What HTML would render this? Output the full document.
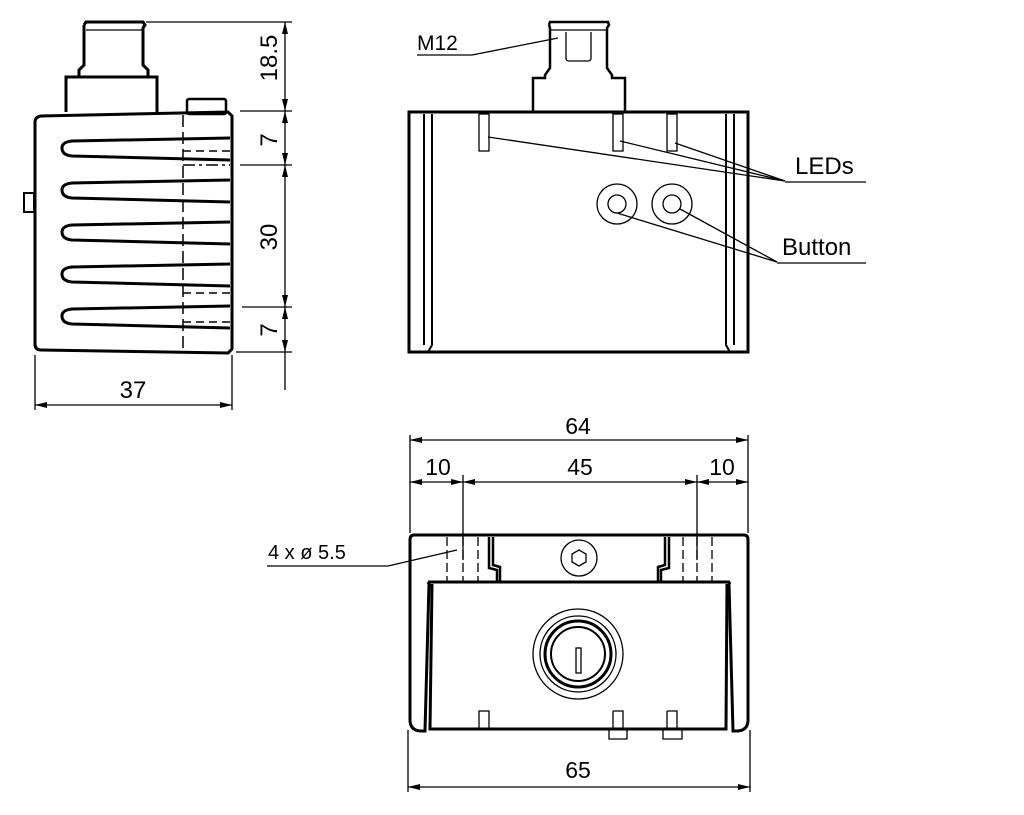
<!DOCTYPE html>
<html><head><meta charset="utf-8"><style>
html,body{margin:0;padding:0;background:#fff;}
svg{display:block;}
text{font-family:"Liberation Sans",sans-serif;fill:#000;}
</style></head><body>
<svg width="1024" height="815" viewBox="0 0 1024 815" xmlns="http://www.w3.org/2000/svg">
<defs>
<marker id="a" viewBox="0 0 12 6" refX="12" refY="3" markerWidth="12" markerHeight="6" orient="auto-start-reverse" markerUnits="userSpaceOnUse"><path d="M0,0 L12,3 L0,6 z" fill="#000"/></marker>
</defs>
<g fill="none" stroke="#000" stroke-width="1.3">
<!-- LEFT VIEW -->
<path d="M84,25 L86,22 L143,22 L145,25 L143,28 L143,65 L148,70 L148,77 L66,77 L66,112 M148,77 L157,77 L157,112 M84,25 L84,65 L79,70 L79,77" stroke-width="3"/>
<line x1="86" y1="30" x2="143" y2="30"/>
<rect x="187" y="99" width="39" height="15" rx="2" stroke-width="2.5"/>
<rect x="24" y="193" width="10" height="19" stroke-width="2"/>
<path d="M41,116 L228,112 L232,116 L232,349 L228,353 L41,350 Q35,350 35,344 L35,122 Q35,117 41,116 Z" stroke-width="3"/>
<g stroke-width="3">
<path d="M230,138 L72,141 Q62,142 62,148 Q62,155 72,156 L230,160"/>
<path d="M230,180 L72,183 Q62,184 62,190 Q62,197 72,198 L230,202"/>
<path d="M230,222 L72,225 Q62,226 62,232 Q62,239 72,240 L230,244"/>
<path d="M230,264 L72,267 Q62,268 62,274 Q62,281 72,282 L230,286"/>
<path d="M230,306 L72,309 Q62,310 62,316 Q62,323 72,324 L230,328"/>
</g>
<line x1="183" y1="115" x2="183" y2="352" stroke-dasharray="12,5" stroke-width="1.5"/>
<line x1="183" y1="151" x2="230" y2="151" stroke-dasharray="8,5" stroke-width="1.5"/>
<line x1="183" y1="165" x2="230" y2="165" stroke-dasharray="12,4,3,4" stroke-width="1.5"/>
<line x1="183" y1="293" x2="230" y2="293" stroke-dasharray="8,5" stroke-width="1.5"/>
<line x1="183" y1="322" x2="230" y2="322" stroke-dasharray="8,5" stroke-width="1.5"/>
<!-- left dims -->
<line x1="146" y1="22" x2="292" y2="22"/>
<line x1="240" y1="111" x2="292" y2="111"/>
<line x1="240" y1="165" x2="292" y2="165"/>
<line x1="242" y1="307" x2="292" y2="307"/>
<line x1="236" y1="352" x2="292" y2="352"/>
<line x1="285" y1="22" x2="285" y2="111" marker-start="url(#a)" marker-end="url(#a)"/>
<line x1="285" y1="111" x2="285" y2="165" marker-start="url(#a)" marker-end="url(#a)"/>
<line x1="285" y1="165" x2="285" y2="307" marker-start="url(#a)" marker-end="url(#a)"/>
<line x1="285" y1="307" x2="285" y2="352" marker-start="url(#a)" marker-end="url(#a)"/>
<line x1="285" y1="352" x2="285" y2="390"/>
<line x1="35" y1="355" x2="35" y2="410"/>
<line x1="232" y1="355" x2="232" y2="410"/>
<line x1="35" y1="405" x2="232" y2="405" marker-start="url(#a)" marker-end="url(#a)"/>

<!-- FRONT VIEW -->
<path d="M549,25 L550,22 L608,22 L609,25 L607,28 L607,68 L612,75 L612,78 L625,78 L625,112 M533,112 L533,78 L545,78 L545,75 L550,68 L550,28 L549,25" stroke-width="2.5"/>
<path d="M550,30 L607,30" />
<path d="M566,32 L566,58 Q566,61 569,61 L588,61 Q591,61 591,58 L591,32"/>
<path d="M409,112 L748,112 L748,352 L409,352 Z" stroke-width="3"/>
<path d="M432,114 L432,345 L428,352 M424,114 L424,345" stroke-width="2"/>
<path d="M726,114 L726,345 L730,352 M734,114 L734,345" stroke-width="2"/>
<rect x="479" y="114" width="10" height="37"/>
<rect x="613" y="114" width="10" height="37"/>
<rect x="667" y="114" width="10" height="37"/>
<circle cx="617" cy="204" r="20"/><circle cx="617" cy="204" r="9"/>
<circle cx="672" cy="204" r="20"/><circle cx="672" cy="204" r="9"/>
<line x1="488" y1="137" x2="785" y2="181"/>
<line x1="620" y1="141" x2="785" y2="181"/>
<line x1="675" y1="143" x2="785" y2="181"/>
<line x1="785" y1="182" x2="866" y2="182"/>
<line x1="617" y1="213" x2="777" y2="262"/>
<line x1="680" y1="209" x2="777" y2="262"/>
<line x1="777" y1="263" x2="866" y2="263"/>
<line x1="417" y1="55" x2="472" y2="55"/>
<line x1="472" y1="55" x2="558" y2="38"/>

<!-- BOTTOM VIEW dims -->
<line x1="410" y1="435" x2="410" y2="533"/>
<line x1="748" y1="435" x2="748" y2="533"/>
<line x1="463" y1="475" x2="463" y2="560"/>
<line x1="697" y1="475" x2="697" y2="560"/>
<line x1="410" y1="440" x2="748" y2="440" marker-start="url(#a)" marker-end="url(#a)"/>
<line x1="410" y1="482" x2="463" y2="482" marker-start="url(#a)" marker-end="url(#a)"/>
<line x1="463" y1="482" x2="697" y2="482" marker-start="url(#a)" marker-end="url(#a)"/>
<line x1="697" y1="482" x2="748" y2="482" marker-start="url(#a)" marker-end="url(#a)"/>
<line x1="408" y1="730" x2="408" y2="792"/>
<line x1="750" y1="730" x2="750" y2="792"/>
<line x1="408" y1="787" x2="750" y2="787" marker-start="url(#a)" marker-end="url(#a)"/>
<line x1="267" y1="566" x2="388" y2="566"/>
<line x1="388" y1="566" x2="457" y2="550"/>

<!-- BOTTOM VIEW body -->
<path d="M414,535 L744,535 Q748,535 748,540 L748,720 Q748,730 738,731 L733,731 L729,584 L730,582 M414,535 Q410,535 410,540 L410,720 Q410,730 420,731 L425,731 L429,584 L428,582" stroke-width="3"/>
<path d="M428,582 L730,582 M432,584 L430,729 L726,729 L727,584" stroke-width="3"/>
<path d="M489,537 L489,568 L497,570 L497,582 M493,537 L493,565 L500,567 L500,582" stroke-width="2.5"/>
<path d="M669,537 L669,568 L661,570 L661,582 M665,537 L665,565 L658,567 L658,582" stroke-width="2.5"/>
<g stroke-dasharray="9,4" stroke-width="1.3">
<line x1="447" y1="537" x2="447" y2="582"/><line x1="478" y1="537" x2="478" y2="582"/>
<line x1="683" y1="537" x2="683" y2="582"/><line x1="712" y1="537" x2="712" y2="582"/>
<line x1="463" y1="537" x2="463" y2="582"/><line x1="697" y1="537" x2="697" y2="582"/>
</g>
<circle cx="579" cy="558" r="18"/>
<path d="M579,550 L586,554 L586,562 L579,566 L572,562 L572,554 Z"/>
<circle cx="578" cy="654" r="45"/>
<circle cx="578" cy="654" r="38"/>
<circle cx="578" cy="654" r="33" stroke-width="3"/>
<circle cx="578" cy="654" r="27" stroke-width="2"/>
<rect x="576" y="648" width="5" height="25"/>
<rect x="479" y="711" width="10" height="18"/>
<path d="M613,711 L623,711 L623,729 M613,711 L613,729 M609,729 L609,739 L627,739 L627,729"/>
<path d="M667,711 L677,711 L677,729 M667,711 L667,729 M663,729 L663,739 L682,739 L682,729"/>
</g>
<g font-size="23">
<text x="133" y="398" text-anchor="middle" font-size="24">37</text>
<text transform="translate(277,58) rotate(-90)" text-anchor="middle" font-size="24">18.5</text>
<text transform="translate(277,140) rotate(-90)" text-anchor="middle" font-size="24">7</text>
<text transform="translate(277,237) rotate(-90)" text-anchor="middle" font-size="24">30</text>
<text transform="translate(277,330) rotate(-90)" text-anchor="middle" font-size="24">7</text>
<text x="417" y="50" font-size="21">M12</text>
<text x="795" y="174" font-size="24">LEDs</text>
<text x="782" y="255" font-size="24">Button</text>
<text x="578" y="434" text-anchor="middle">64</text>
<text x="438" y="475" text-anchor="middle">10</text>
<text x="580" y="475" text-anchor="middle">45</text>
<text x="722" y="475" text-anchor="middle">10</text>
<text x="268" y="559" font-size="20">4 x ø 5.5</text>
<text x="578" y="778" text-anchor="middle">65</text>
</g>
</svg>
</body></html>
